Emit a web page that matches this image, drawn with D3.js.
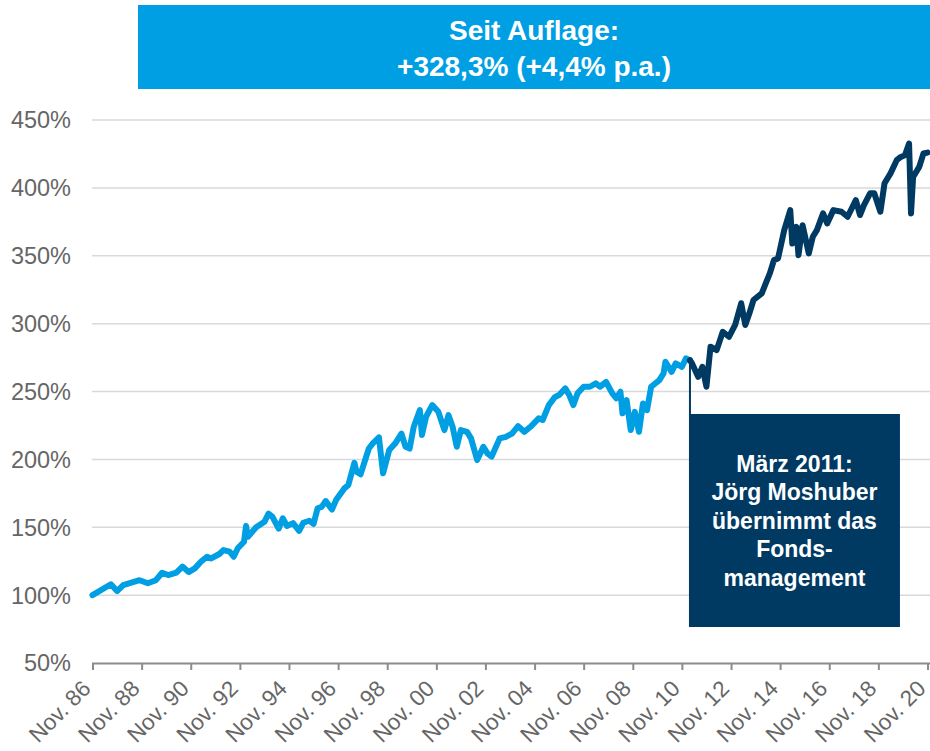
<!DOCTYPE html>
<html>
<head>
<meta charset="utf-8">
<script src="https://cdn.jsdelivr.net/npm/d3@7"></script>
<style>
  body { margin: 0; background: #fff; }
  svg { display: block; font-family: Arial, "Liberation Sans", sans-serif; }
</style>
</head>
<body>
<div id="chart"></div>
<script>
const WIDTH  = 930;
const HEIGHT = 751;

const LIGHT = "#009fe3";
const DARK  = "#003a63";

// month-end readings of the fund (% of initial value)
const months = [
  "1986-11","1987-08","1987-11","1988-02","1988-10","1989-02","1989-06","1989-09","1989-12",
  "1990-04","1990-07","1990-10","1991-01","1991-04","1991-07","1991-09","1992-01","1992-03",
  "1992-06","1992-08","1992-10","1993-01","1993-02","1993-03","1993-07","1993-11","1994-01",
  "1994-03","1994-06","1994-08","1994-10","1995-01","1995-04","1995-06","1995-09","1995-11",
  "1996-01","1996-03","1996-05","1996-08","1996-10","1997-02","1997-04","1997-07","1997-08",
  "1997-10","1998-02","1998-04","1998-07","1998-09","1998-12","1999-03","1999-06","1999-08",
  "1999-10","1999-12","2000-03","2000-04","2000-06","2000-09","2000-12","2001-03","2001-05",
  "2001-07","2001-09","2001-11","2002-02","2002-04","2002-07","2002-10","2002-12","2003-02",
  "2003-06","2003-09","2003-12","2004-03","2004-06","2004-09","2005-01","2005-03","2005-06",
  "2005-09","2005-11","2006-02","2006-04","2006-06","2006-08","2006-11","2007-02","2007-05",
  "2007-07","2007-10","2008-01","2008-03","2008-05","2008-06","2008-08","2008-10","2008-12",
  "2009-02","2009-04","2009-06","2009-08","2009-12","2010-02","2010-03","2010-06","2010-08",
  "2010-11","2011-01","2011-03","2011-04","2011-07","2011-09","2011-11","2012-01","2012-04",
  "2012-07","2012-10","2013-01","2013-04","2013-06","2013-08","2013-10","2014-02","2014-04",
  "2014-06","2014-08","2014-10","2015-01","2015-04","2015-05","2015-07","2015-08","2015-10",
  "2016-01","2016-03","2016-05","2016-08","2016-10","2017-01","2017-05","2017-08","2017-12",
  "2018-02","2018-04","2018-07","2018-09","2018-12","2019-02","2019-05","2019-08","2019-10",
  "2019-12","2020-02","2020-03","2020-04","2020-07","2020-09","2020-11"
];
const values = [
  100,108,103,107.4,111,108.7,111,116.5,114.8,
  116.5,121,117,119.7,124.6,128.3,127,130.3,133.2,
  132,128.3,134.5,139.3,151,143,150,154,160,
  157.7,149,156.6,151,153,147.4,153.3,154.8,152.4,
  164,165,169.3,163,170,178.6,181,197.5,190.9,
  189,208,211.8,216.2,189.7,206.9,211.8,219,209.3,
  208,224,236.3,218,231.4,240,235,221.6,232.6,
  224,209.3,221.6,220.3,215.5,199.5,209.3,204.4,202,
  215.5,216.6,219,224.5,220.3,224,230.2,229,240,
  246,247.4,252.3,247.4,240,248.6,253.5,253.5,256,
  253.5,257,248.6,245,249.8,233.9,243.7,221.6,235,
  220.3,241.2,236.3,253.5,258.4,263.3,271.9,264.5,270.7,
  268.2,274.4,273,270.7,260.8,268.2,253.5,283,280.5,
  294,290.3,299,315,299,307.6,317.4,322.3,329.6,
  337,346.8,348,368.9,383.6,359,371.3,350.4,372.5,
  351.7,364,368.9,381.2,373.8,383.6,382.4,378.7,391,
  380,387.3,396,396,382.4,403.4,410.7,420.4,422.8,
  424,432.7,381.2,408,415.5,425.3,426
];
const switchMonth = "2011-03";   // change of fund manager

const yTicks = [50, 100, 150, 200, 250, 300, 350, 400, 450];
const xTickYears = [1986,1988,1990,1992,1994,1996,1998,2000,2002,2004,2006,2008,2010,2012,2014,2016,2018,2020];

const headerLines = ["Seit Auflage:", "+328,3% (+4,4% p.a.)"];
const noteLines = ["März 2011:", "Jörg Moshuber", "übernimmt das", "Fonds-", "management"];

const parse = d3.timeParse("%Y-%m");
const data = months.map((m, i) => ({ date: parse(m), value: values[i] }));
const switchDate = parse(switchMonth);
const before = data.filter(d => d.date <= switchDate);
const after  = data.filter(d => d.date >= switchDate);

const svg = d3.select("#chart").append("svg")
  .attr("width", WIDTH)
  .attr("height", HEIGHT);

const x = d3.scaleTime()
  .domain([new Date(1986, 10, 1), new Date(2020, 10, 1)])
  .range([92.5, 927.5]);
const y = d3.scaleLinear()
  .domain([50, 450])
  .range([663, 120]);

// header box
svg.append("rect")
  .attr("x", 138).attr("y", 5)
  .attr("width", WIDTH - 138).attr("height", 84)
  .attr("fill", LIGHT);
svg.append("g")
  .selectAll("text")
  .data(headerLines)
  .join("text")
  .attr("x", (138 + WIDTH) / 2)
  .attr("y", (d, i) => 39.5 + i * 36)
  .attr("text-anchor", "middle")
  .attr("fill", "#fff")
  .attr("font-weight", "bold")
  .attr("font-size", 28)
  .text(d => d);

// grid + y labels
svg.append("g")
  .selectAll("line")
  .data(yTicks.filter(t => t > 50))
  .join("line")
  .attr("x1", 92).attr("x2", WIDTH)
  .attr("y1", d => y(d)).attr("y2", d => y(d))
  .attr("stroke", "#d9d9d9")
  .attr("stroke-width", 1.5);

svg.append("g")
  .selectAll("text")
  .data(yTicks)
  .join("text")
  .attr("x", 71)
  .attr("y", d => y(d))
  .attr("dy", "0.36em")
  .attr("text-anchor", "end")
  .attr("fill", "#666")
  .attr("font-size", 23.5)
  .text(d => d + "%");

// x axis
const xAxis = d3.axisBottom(x)
  .tickValues(xTickYears.map(yr => new Date(yr, 10, 1)))
  .tickSize(7)
  .tickFormat(d => "Nov. " + d3.timeFormat("%y")(d));

const gx = svg.append("g")
  .attr("transform", "translate(0,663)")
  .call(xAxis);
gx.select(".domain")
  .attr("d", `M92,0.5H${WIDTH}`)
  .attr("stroke", "#8c8c8c")
  .attr("stroke-width", 2);
gx.selectAll(".tick line")
  .attr("stroke", "#8c8c8c")
  .attr("stroke-width", 2);
gx.selectAll(".tick text")
  .attr("fill", "#666")
  .attr("font-size", 22.5)
  .attr("font-family", "Arial, 'Liberation Sans', sans-serif")
  .attr("text-anchor", "end")
  .attr("dy", null)
  .attr("y", null)
  .attr("transform", "translate(-1,27) rotate(-45)");

// lines
const line = d3.line()
  .x(d => x(d.date))
  .y(d => y(d.value));

svg.append("path")
  .datum(before)
  .attr("d", line)
  .attr("fill", "none")
  .attr("stroke", LIGHT)
  .attr("stroke-width", 6)
  .attr("stroke-linejoin", "round")
  .attr("stroke-linecap", "round");

svg.append("path")
  .datum(after)
  .attr("d", line)
  .attr("fill", "none")
  .attr("stroke", DARK)
  .attr("stroke-width", 6)
  .attr("stroke-linejoin", "round")
  .attr("stroke-linecap", "round");

// annotation
const sx = x(switchDate);
const sv = after[0].value;
svg.append("line")
  .attr("x1", sx).attr("x2", sx)
  .attr("y1", y(sv)).attr("y2", 414)
  .attr("stroke", DARK)
  .attr("stroke-width", 2);

svg.append("rect")
  .attr("x", sx - 1).attr("y", 414)
  .attr("width", 211).attr("height", 213)
  .attr("fill", DARK);

svg.append("g")
  .selectAll("text")
  .data(noteLines)
  .join("text")
  .attr("x", sx - 1 + 211 / 2)
  .attr("y", (d, i) => 472 + i * 28.4)
  .attr("text-anchor", "middle")
  .attr("fill", "#fff")
  .attr("font-weight", "bold")
  .attr("font-size", 23)
  .text(d => d);
</script>
</body>
</html>
